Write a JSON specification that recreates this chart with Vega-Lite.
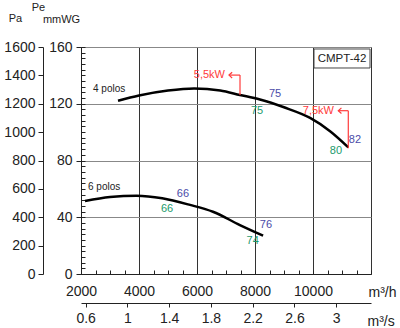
{
  "$schema": "https://vega.github.io/schema/vega-lite/v6.json",
  "width": 290,
  "height": 227,
  "autosize": {"type": "none"},
  "padding": {"left": 81, "top": 47, "right": 29, "bottom": 54},
  "config": {
    "font": "Liberation Sans",
    "view": {"stroke": "#333", "strokeWidth": 1},
    "axis": {"labelFont": "Liberation Sans", "titleFont": "Liberation Sans", "labelColor": "#222", "titleColor": "#222", "titleFontWeight": "normal", "labelFlush": false, "labelOverlap": false}
  },
  "datasets": {
    "curves": [
      {"s": "4", "q": 3276, "p": 122.1}, {"s": "4", "q": 4000, "p": 125.8}, {"s": "4", "q": 5000, "p": 129.3},
      {"s": "4", "q": 5900, "p": 130.8}, {"s": "4", "q": 6800, "p": 129.3}, {"s": "4", "q": 7480, "p": 126.2},
      {"s": "4", "q": 8170, "p": 123}, {"s": "4", "q": 9000, "p": 117.5}, {"s": "4", "q": 9900, "p": 110},
      {"s": "4", "q": 10600, "p": 100.5}, {"s": "4", "q": 11217, "p": 89.3},
      {"s": "6", "q": 2138, "p": 51.5}, {"s": "6", "q": 3000, "p": 54.2}, {"s": "6", "q": 3920, "p": 55.2},
      {"s": "6", "q": 4800, "p": 53.4}, {"s": "6", "q": 5760, "p": 48.7}, {"s": "6", "q": 6550, "p": 43.9},
      {"s": "6", "q": 7480, "p": 34.5}, {"s": "6", "q": 8280, "p": 27}
    ],
    "ann": [
      {"q": 7483, "q2": 7483, "p": 140.2, "p2": 126.2},
      {"q": 7483, "q2": 7103, "p": 140.2, "p2": 140.2},
      {"q": 11217, "q2": 11217, "p": 115.1, "p2": 88.6},
      {"q": 11217, "q2": 10872, "p": 115.1, "p2": 115.1}
    ],
    "tips": [{"q": 7103, "p": 140.2}, {"q": 10872, "p": 115.1}],
    "nums": [
      {"q": 8690, "p": 126.9, "t": "75", "k": "b"}, {"q": 8069, "p": 114.9, "t": "75", "k": "g"},
      {"q": 11448, "p": 94.4, "t": "82", "k": "b"}, {"q": 10793, "p": 86.7, "t": "80", "k": "g"},
      {"q": 5517, "p": 56.4, "t": "66", "k": "b"}, {"q": 4966, "p": 45.8, "t": "66", "k": "g"},
      {"q": 8379, "p": 34.5, "t": "76", "k": "b"}, {"q": 7920, "p": 23.5, "t": "74", "k": "g"}
    ],
    "kw": [{"q": 6966, "p": 140.2, "t": "5,5kW"}, {"q": 10724, "p": 115.1, "t": "7,5kW"}],
    "polos": [{"q": 2414, "p": 130.4, "t": "4 polos"}, {"q": 2241, "p": 61.3, "t": "6 polos"}],
    "box": [{"q": 10034, "q2": 11966, "p": 158.6, "p2": 145.2}],
    "boxtext": [{"q": 11000, "p": 151.2, "t": "CMPT-42"}]
  },
  "layer": [
    {
      "layer": [
        {
          "data": {"name": "curves"},
          "mark": {"type": "line", "color": "#000", "strokeWidth": 2.5, "interpolate": "monotone"},
          "encoding": {
            "x": {"field": "q", "type": "quantitative", "scale": {"domain": [2000, 12000], "nice": false, "zero": false},
              "axis": {"values": [2000, 4000, 6000, 8000, 10000], "format": "d", "grid": true, "gridColor": "#333", "gridWidth": 1, "ticks": false, "tickSize": 0, "domainColor": "#222", "labelFontSize": 14, "labelPadding": 10,
                "title": "m³/h", "titleX": 287, "titleY": 18, "titleAlign": "left", "titleBaseline": "middle", "titleFontSize": 14, "titleAngle": 0}},
            "y": {"field": "p", "type": "quantitative", "scale": {"domain": [0, 160], "nice": false},
              "axis": {"values": [0, 20, 40, 60, 80, 100, 120, 140, 160], "grid": true, "gridColor": "#888", "gridWidth": 1, "tickSize": 5, "tickColor": "#222", "domainColor": "#222", "labelFontSize": 14, "labelPadding": 4,
                "title": "mmWG", "titleAngle": 0, "titleX": -20, "titleY": -28, "titleAlign": "center", "titleBaseline": "middle", "titleFontSize": 11}},
            "detail": {"field": "s"}
          }
        },
        {
          "data": {"name": "ann"},
          "mark": {"type": "rule", "color": "#ff3b3b", "strokeWidth": 1.2},
          "encoding": {
            "x": {"field": "q", "type": "quantitative"}, "x2": {"field": "q2"},
            "y": {"field": "p", "type": "quantitative"}, "y2": {"field": "p2"}
          }
        },
        {
          "data": {"name": "tips"},
          "mark": {"type": "point", "shape": "M1,-0.9L0,0L1,0.9", "size": 40, "filled": false, "stroke": "#ff3b3b", "strokeWidth": 1.2, "opacity": 1},
          "encoding": {"x": {"field": "q", "type": "quantitative"}, "y": {"field": "p", "type": "quantitative"}}
        },
        {
          "data": {"name": "nums"},
          "mark": {"type": "text", "fontSize": 11, "align": "center", "baseline": "middle"},
          "encoding": {
            "x": {"field": "q", "type": "quantitative"}, "y": {"field": "p", "type": "quantitative"},
            "text": {"field": "t"},
            "color": {"field": "k", "type": "nominal", "scale": {"domain": ["b", "g"], "range": ["#4b4ba8", "#1c9a6c"]}, "legend": null}
          }
        },
        {
          "data": {"name": "kw"},
          "mark": {"type": "text", "fontSize": 11, "align": "right", "baseline": "middle", "color": "#ff3b3b"},
          "encoding": {"x": {"field": "q", "type": "quantitative"}, "y": {"field": "p", "type": "quantitative"}, "text": {"field": "t"}}
        },
        {
          "data": {"name": "polos"},
          "mark": {"type": "text", "fontSize": 10, "align": "left", "baseline": "middle", "color": "#222"},
          "encoding": {"x": {"field": "q", "type": "quantitative"}, "y": {"field": "p", "type": "quantitative"}, "text": {"field": "t"}}
        },
        {
          "data": {"name": "box"},
          "mark": {"type": "rect", "fill": "#aaa", "xOffset": 1.5, "yOffset": 1.5},
          "encoding": {"x": {"field": "q", "type": "quantitative"}, "x2": {"field": "q2"}, "y": {"field": "p", "type": "quantitative"}, "y2": {"field": "p2"}}
        },
        {
          "data": {"name": "box"},
          "mark": {"type": "rect", "fill": "#fff", "stroke": "#444", "strokeWidth": 1},
          "encoding": {"x": {"field": "q", "type": "quantitative"}, "x2": {"field": "q2"}, "y": {"field": "p", "type": "quantitative"}, "y2": {"field": "p2"}}
        },
        {
          "data": {"name": "boxtext"},
          "mark": {"type": "text", "fontSize": 11.5, "align": "center", "baseline": "middle", "color": "#222"},
          "encoding": {"x": {"field": "q", "type": "quantitative"}, "y": {"field": "p", "type": "quantitative"}, "text": {"field": "t"}}
        }
      ]
    },
    {
      "data": {"values": [{"pa": 0}, {"pa": 1600}]},
      "mark": {"type": "point", "opacity": 0},
      "encoding": {
        "y": {"field": "pa", "type": "quantitative", "scale": {"domain": [0, 1600], "nice": false},
          "axis": {"orient": "left", "offset": 38, "values": [0, 200, 400, 600, 800, 1000, 1200, 1400, 1600], "format": "d", "grid": false, "tickSize": 5, "tickColor": "#222", "domainColor": "#222", "labelFontSize": 14, "labelPadding": 3,
            "title": "Pa", "titleAngle": 0, "titleX": -28, "titleY": -29, "titleAlign": "center", "titleBaseline": "middle", "titleFontSize": 11}}
      }
    },
    {
      "data": {"values": [{"qs": 0.6}, {"qs": 3}]},
      "mark": {"type": "point", "opacity": 0},
      "encoding": {
        "x": {"field": "qs", "type": "quantitative", "scale": {"domain": [0.5556, 3.3333], "nice": false, "zero": false},
          "axis": {"orient": "bottom", "offset": 29, "values": [0.6, 1, 1.4, 1.8, 2.2, 2.6, 3], "format": "~g", "grid": false, "tickSize": 4, "tickColor": "#222", "domainColor": "#222", "labelFontSize": 14, "labelPadding": 4,
            "title": "m³/s", "titleX": 286, "titleY": 18, "titleAlign": "left", "titleBaseline": "middle", "titleFontSize": 14, "titleAngle": 0}}
      }
    },
    {
      "data": {"values": [{"q": 2000}]},
      "mark": {"type": "point", "opacity": 0},
      "encoding": {
        "x": {"field": "q", "type": "quantitative", "scale": {"domain": [2000, 12000], "nice": false, "zero": false},
          "axis": {"orient": "bottom", "offset": -4, "values": [2000, 2500, 3000, 3500, 4000, 4500, 5000, 5500, 6000, 6500, 7000, 7500, 8000, 8500, 9000, 9500, 10000, 10500, 11000, 11500, 12000], "labels": false, "domain": false, "grid": false, "tickSize": 4, "tickColor": "#222", "title": null}}
      }
    },
    {
      "data": {"values": [{"p": 0}]},
      "mark": {"type": "point", "opacity": 0},
      "encoding": {
        "y": {"field": "p", "type": "quantitative", "scale": {"domain": [0, 160], "nice": false},
          "axis": {"orient": "left", "offset": -4, "values": [0, 4, 8, 12, 16, 20, 24, 28, 32, 36, 40, 44, 48, 52, 56, 60, 64, 68, 72, 76, 80, 84, 88, 92, 96, 100, 104, 108, 112, 116, 120, 124, 128, 132, 136, 140, 144, 148, 152, 156, 160], "labels": false, "domain": false, "grid": false, "tickSize": 4, "tickColor": "#222",
            "title": "Pe", "titleAngle": 0, "titleX": -47, "titleY": -40, "titleAlign": "center", "titleBaseline": "middle", "titleFontSize": 11}}
      }
    }
  ],
  "resolve": {"scale": {"x": "independent", "y": "independent"}}
}
